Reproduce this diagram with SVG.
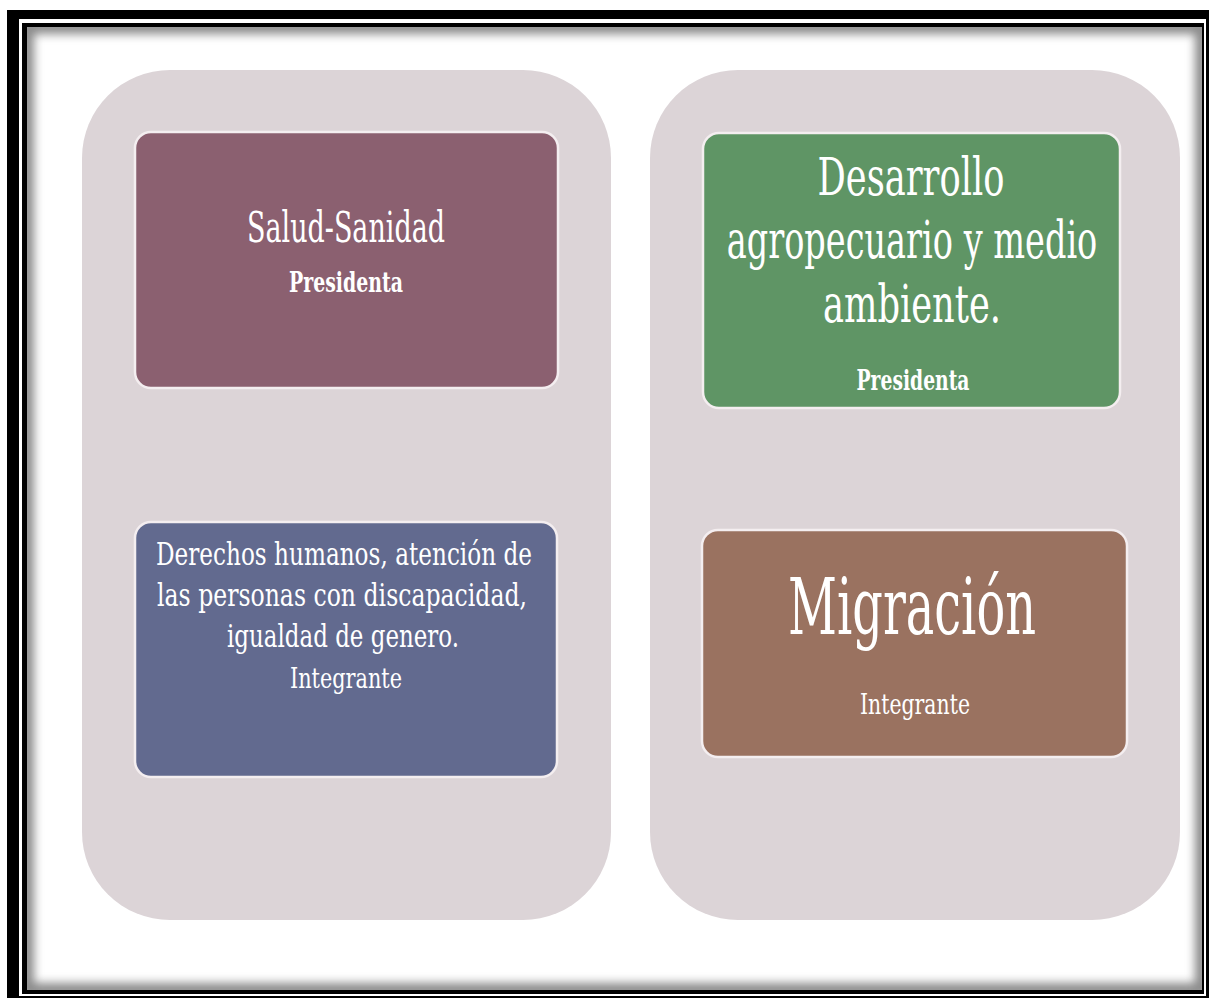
<svg xmlns="http://www.w3.org/2000/svg" width="1212" height="1002" viewBox="0 0 1212 1002">
<defs>
<style>
.panel{fill:#dcd4d7}
.box{stroke:#f4eef0;stroke-width:2.5}
.t{font-family:"DejaVu Serif","Liberation Serif",serif;fill:#ffffff;text-anchor:middle}
.b{font-weight:bold}
</style>
<filter id="blur" x="-5%" y="-5%" width="110%" height="110%"><feGaussianBlur stdDeviation="5"/></filter>
<clipPath id="inner"><rect x="27" y="27" width="1175" height="963"/></clipPath>
</defs>
<rect x="0" y="0" width="1212" height="1002" fill="#ffffff"/>
<rect x="7" y="10" width="1202" height="988" fill="#000"/>
<rect x="19" y="19" width="1187" height="977" fill="#fff"/>
<rect x="22" y="23" width="1182" height="971" fill="#000"/>
<rect x="27" y="27" width="1175" height="963" fill="#fff"/>
<g clip-path="url(#inner)">
<rect x="27" y="27" width="1175" height="963" fill="none" stroke="#8a8a8a" stroke-width="14" filter="url(#blur)"/>
</g>
<g id="panel-left"><rect class="panel" x="82" y="70" width="529" height="850" rx="88" ry="88"/></g>
<g id="panel-right"><rect class="panel" x="650" y="70" width="530" height="850" rx="88" ry="88"/></g>
<g id="connectors"></g>
<g id="node-salud">
<rect class="box" x="135" y="132" width="423" height="256" rx="16" fill="#8b6070"/>
<text class="t" x="346" y="242" font-size="43" textLength="198" lengthAdjust="spacingAndGlyphs">Salud-Sanidad</text>
<text class="t b" x="346" y="292" font-size="28" textLength="114" lengthAdjust="spacingAndGlyphs">Presidenta</text>
</g>
<g id="node-derechos">
<rect class="box" x="135" y="522" width="422" height="255" rx="16" fill="#626a8f"/>
<text class="t" x="344" y="565" font-size="32" textLength="376" lengthAdjust="spacingAndGlyphs">Derechos humanos, atención de</text>
<text class="t" x="342" y="606" font-size="32" textLength="370" lengthAdjust="spacingAndGlyphs">las personas con discapacidad,</text>
<text class="t" x="343" y="647" font-size="32" textLength="232" lengthAdjust="spacingAndGlyphs">igualdad de genero.</text>
<text class="t" x="346" y="688" font-size="28" textLength="112" lengthAdjust="spacingAndGlyphs">Integrante</text>
</g>
<g id="node-desarrollo">
<rect class="box" x="703" y="133" width="417" height="275" rx="16" fill="#5f9565"/>
<text class="t" x="911" y="195" font-size="52" textLength="187" lengthAdjust="spacingAndGlyphs">Desarrollo</text>
<text class="t" x="0" y="0" font-size="52" transform="translate(912 258) scale(0.645 1)">agropecuario y medio</text>
<text class="t" x="912" y="322" font-size="52" textLength="178" lengthAdjust="spacingAndGlyphs">ambiente.</text>
<text class="t b" x="913" y="390" font-size="28" textLength="113" lengthAdjust="spacingAndGlyphs">Presidenta</text>
</g>
<g id="node-migracion">
<rect class="box" x="702" y="530" width="425" height="227" rx="16" fill="#9a7260"/>
<text class="t" x="912" y="634" font-size="78" textLength="248" lengthAdjust="spacingAndGlyphs">Migración</text>
<text class="t" x="915" y="714" font-size="28" textLength="110" lengthAdjust="spacingAndGlyphs">Integrante</text>
</g>
</svg>
